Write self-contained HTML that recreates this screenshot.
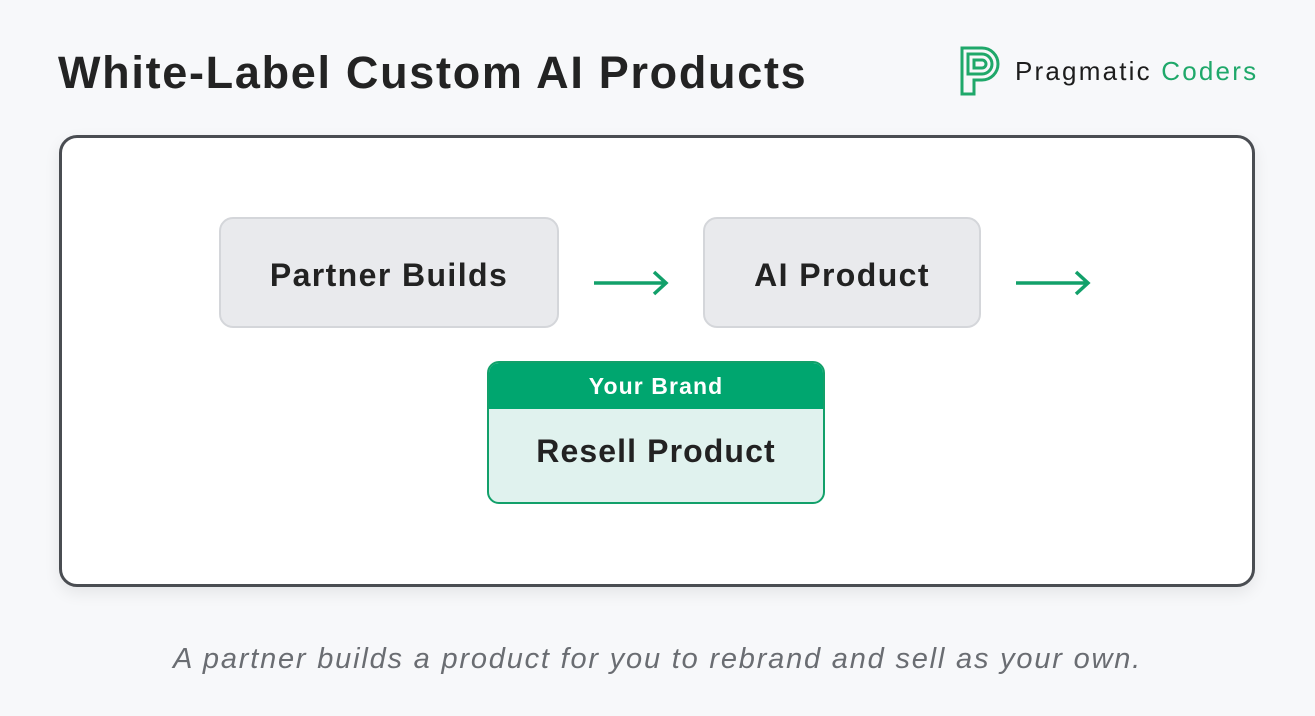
<!DOCTYPE html>
<html><head><meta charset="utf-8"><style>
html,body{margin:0;padding:0}
body{width:1315px;height:716px;background:#f7f8fa;position:relative;overflow:hidden;font-family:"Liberation Sans",sans-serif;color:#222}
.title{position:absolute;left:58px;top:47px;font-size:45px;font-weight:bold;color:#232323;letter-spacing:1.7px}
.logo{position:absolute;left:960px;top:46px}
.logotext{position:absolute;left:1015px;top:56px;font-size:26px;color:#1d1d1d;letter-spacing:2.2px}
.logotext span{color:#1fa86a}
.card{position:absolute;left:59px;top:135px;width:1190px;height:446px;border:3px solid #4a4d52;border-radius:18px;background:#fff;box-shadow:0 6px 16px rgba(0,0,0,0.08)}
.box{position:absolute;background:#e9eaed;border:2px solid #d4d6da;border-radius:14px;display:flex;align-items:center;justify-content:center;font-size:32px;font-weight:bold;color:#222;box-sizing:border-box;letter-spacing:1.4px;padding-top:6px}
.res{position:absolute;left:487px;top:361px;width:338px;height:143px;border:2px solid #12a06a;border-radius:12px;background:#e0f2ee;box-sizing:border-box;overflow:hidden}
.res .h{height:46px;background:#00a66f;color:#fff;font-weight:bold;font-size:23px;display:flex;align-items:center;justify-content:center;letter-spacing:1.1px}
.res .b{height:93px;display:flex;align-items:center;justify-content:center;font-size:32px;font-weight:bold;color:#222;padding-bottom:8px;box-sizing:border-box;letter-spacing:1.1px}
.cap{position:absolute;left:0;width:1315px;top:643px;text-align:center;font-size:29px;font-style:italic;color:#6a6d72;letter-spacing:1.8px}
</style></head><body>
<div class="title">White-Label Custom AI Products</div>
<svg class="logo" width="42" height="50" viewBox="0 0 42 50"><path d="M2 2 H22 A16 16 0 0 1 22 34 H14 V48 H2 Z M14 14 H22 A4 4 0 0 1 22 22 H14 Z" fill="none" stroke="#1fa86a" stroke-width="3"/><path d="M8 8 H22 A10 10 0 0 1 22 28 H8 Z" fill="none" stroke="#1fa86a" stroke-width="3"/></svg>
<div class="logotext">Pragmatic <span>Coders</span></div>
<div class="card"></div>
<div class="box" style="left:219px;top:217px;width:340px;height:111px">Partner Builds</div>
<div class="box" style="left:703px;top:217px;width:278px;height:111px">AI Product</div>
<svg style="position:absolute;left:590px;top:268px" width="82" height="32"><path d="M4 15 H76 M64 4 L76 15 L64 26" fill="none" stroke="#12a06a" stroke-width="3.5"/></svg>
<svg style="position:absolute;left:1012px;top:268px" width="82" height="32"><path d="M4 15 H76 M64 4 L76 15 L64 26" fill="none" stroke="#12a06a" stroke-width="3.5"/></svg>
<div class="res"><div class="h">Your Brand</div><div class="b">Resell Product</div></div>
<div class="cap">A partner builds a product for you to rebrand and sell as your own.</div>
</body></html>
